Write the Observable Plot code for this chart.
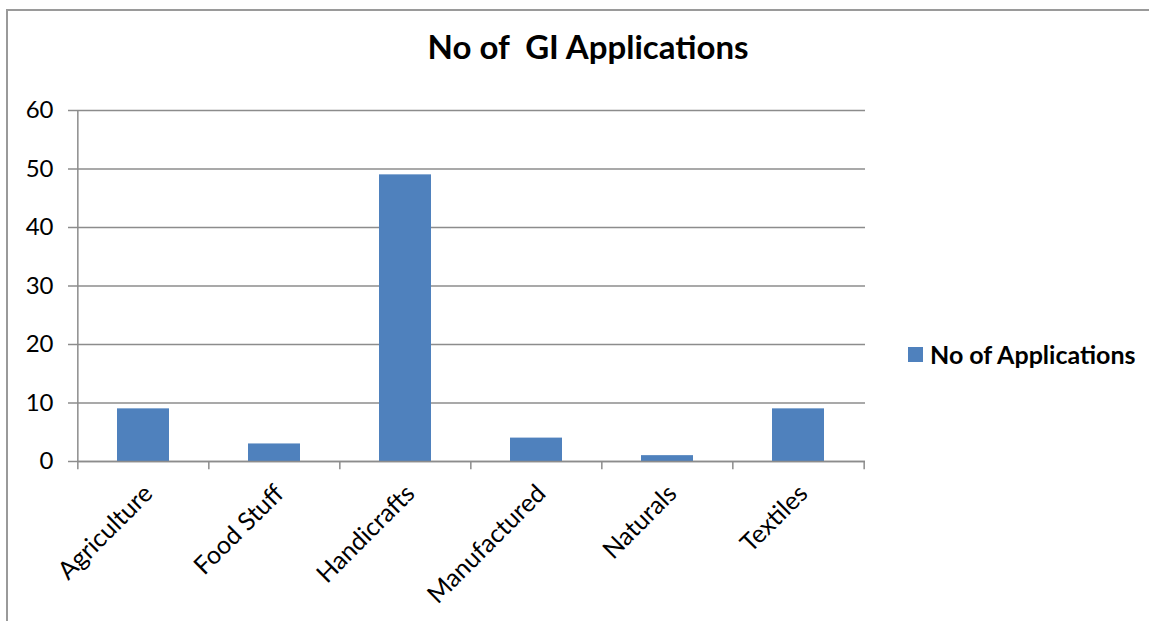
<!DOCTYPE html>
<html>
<head>
<meta charset="utf-8">
<script src="https://cdn.jsdelivr.net/npm/d3@7"></script>
<script src="https://cdn.jsdelivr.net/npm/@observablehq/plot@0.6"></script>
<style>
  html, body { margin: 0; padding: 0; background: #fff; }
  #wrap { position: relative; width: 1149px; height: 621px; overflow: hidden; font-family: Lato, "Open Sans", sans-serif; }
  #frame { position: absolute; left: 6px; top: 9px; width: 1200px; height: 700px; border-left: 2px solid #9a9a9a; border-top: 2px solid #9a9a9a; }
  #title { position: absolute; left: 0; width: 1176px; top: 30px; text-align: center; font-weight: bold; font-size: 33px; line-height: 1; white-space: pre; color: #000; }
  #legend { position: absolute; left: 908px; top: 342px; display: flex; align-items: center; font-weight: bold; font-size: 25px; line-height: 1; color: #000; }
  #legend .sw { width: 15px; height: 15px; background: #4f81bd; margin-right: 7px; }
  #chart { position: absolute; left: 0; top: 0; }
  #chart svg { overflow: visible; }
</style>
</head>
<body>
<div id="wrap">
  <div id="frame"></div>
  <div id="chart"></div>
  <div id="title"></div>
  <div id="legend"><div class="sw"></div><span id="legendText"></span></div>
</div>
<script>
const categories = ["Agriculture", "Food Stuff", "Handicrafts", "Manufactured", "Naturals", "Textiles"];
const values = [9, 3, 49, 4, 1, 9];
const yTicks = [0, 10, 20, 30, 40, 50, 60];
const seriesName = "No of Applications";
const chartTitle = "No of  GI Applications";

const data = categories.map((c, i) => ({category: c, value: values[i]}));

const W = 1149, H = 621, ML = 77, MR = 284, MT = 110, MB = 160;
const step = (W - ML - MR) / categories.length;
const lineColor = "#8c8c8c";

document.getElementById("title").textContent = chartTitle;
document.getElementById("legendText").textContent = seriesName;

const chart = Plot.plot({
  width: W,
  height: H,
  marginLeft: ML,
  marginRight: MR,
  marginTop: MT,
  marginBottom: MB,
  style: {fontFamily: "Lato, 'Open Sans', sans-serif", background: "transparent", color: "#000"},
  x: {domain: categories, paddingInner: 0.6, paddingOuter: 0.3, axis: null, label: null},
  y: {domain: [0, 60], axis: null, label: null},
  marks: [
    Plot.gridY(yTicks, {stroke: lineColor, strokeOpacity: 1, strokeWidth: 1.5}),
    Plot.axisY(yTicks, {tickSize: 9, tickPadding: 15, fontSize: 24, stroke: lineColor, strokeWidth: 1.5, fill: "#000", tickFormat: d => String(d), label: null}),
    Plot.barY(data, {x: "category", y: "value", fill: "#4f81bd"}),
    Plot.ruleY([0], {stroke: lineColor, strokeWidth: 1.5}),
    Plot.ruleX([categories[0]], {dx: -step / 2, y1: 0, y2: 60, stroke: lineColor, strokeWidth: 1.5}),
    Plot.ruleX(categories, {x: d => d, dx: -step / 2, y1: 0, y2: -1.4, stroke: lineColor, strokeWidth: 1.5}),
    Plot.ruleX([categories[categories.length - 1]], {dx: step / 2, y1: 0, y2: -1.4, stroke: lineColor, strokeWidth: 1.5}),
    Plot.axisX(categories, {tickSize: 0, tickRotate: -45, tickPadding: 28, dx: 5, fontSize: 25, fill: "#000", textAnchor: "end", label: null})
  ]
});
document.getElementById("chart").appendChild(chart);
</script>
</body>
</html>
